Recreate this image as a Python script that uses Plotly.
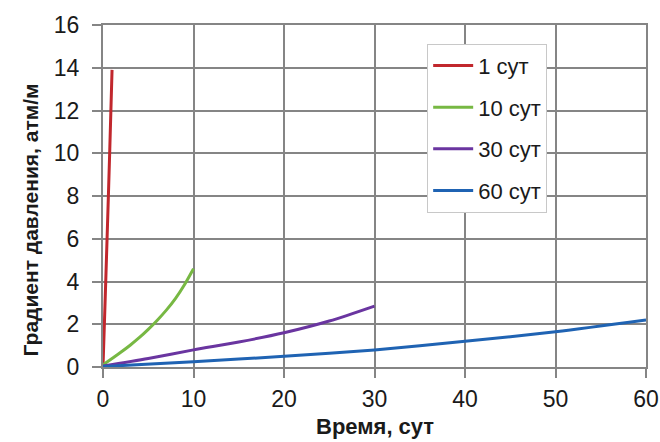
import plotly.graph_objects as go

# Pressure gradient vs time for different production periods
t_1 = [0, 0.25, 0.5, 0.75, 1.0]
g_1 = [0, 3.3, 6.7, 10.2, 13.9]

t_10 = [0, 1, 2, 3, 4, 5, 6, 7, 8, 9, 10]
g_10 = [0.1, 0.4, 0.7, 1.02, 1.37, 1.76, 2.19, 2.66, 3.2, 3.85, 4.6]

t_30 = [0, 5, 10, 15, 20, 25, 30]
g_30 = [0.05, 0.4, 0.8, 1.17, 1.6, 2.15, 2.85]

t_60 = [0, 10, 20, 30, 40, 50, 60]
g_60 = [0.02, 0.25, 0.5, 0.8, 1.2, 1.65, 2.2]

names = ["1 сут", "10 сут", "30 сут", "60 сут"]
colors = ["#c1272d", "#77b843", "#6a35a0", "#1f63b3"]
series = [(t_1, g_1), (t_10, g_10), (t_30, g_30), (t_60, g_60)]

font_family = "Liberation Sans, Arial, sans-serif"
grid_color = "#858585"

fig = go.Figure()
for i, ((x, y), name, color) in enumerate(zip(series, names, colors)):
    fig.add_trace(go.Scatter(
        x=x, y=y, mode="lines", name=name, legendgroup=f"g{i}",
        line=dict(color=color, width=3, shape="spline", smoothing=0.8),
    ))

fig.update_layout(
    width=660, height=442,
    margin=dict(l=103, r=14, t=25, b=75),
    paper_bgcolor="white", plot_bgcolor="white",
    font=dict(family=font_family, size=23, color="#1a1a1a"),
    showlegend=True,
    legend=dict(
        x=0.597, y=0.945, xanchor="left", yanchor="top",
        bgcolor="white", bordercolor="#c8c8c8", borderwidth=1,
        font=dict(family=font_family, size=22, color="#1a1a1a"),
        tracegroupgap=10, itemwidth=40,
    ),
    xaxis=dict(
        range=[0, 60], tickvals=[0, 10, 20, 30, 40, 50, 60],
        showgrid=True, gridcolor=grid_color, gridwidth=2,
        showline=True, linecolor=grid_color, linewidth=2, mirror=True,
        ticks="outside", ticklen=9, tickwidth=2, tickcolor=grid_color,
        zeroline=False, automargin=False, ticklabelstandoff=1,
    ),
    yaxis=dict(
        range=[0, 16], tickvals=[0, 2, 4, 6, 8, 10, 12, 14, 16],
        showgrid=True, gridcolor=grid_color, gridwidth=2,
        showline=True, linecolor=grid_color, linewidth=2, mirror=True,
        ticks="outside", ticklen=9, tickwidth=2, tickcolor=grid_color,
        zeroline=False, automargin=False, ticklabelstandoff=8,
    ),
    annotations=[
        dict(
            text="<b>Градиент давления, атм/м</b>",
            xref="paper", yref="paper", x=-0.134, y=0.429,
            xanchor="center", yanchor="middle", textangle=-90, showarrow=False,
            font=dict(family=font_family, size=21, color="#1a1a1a"),
        ),
        dict(
            text="<b>Время, сут</b>",
            xref="paper", yref="paper", x=0.5, y=-0.173,
            xanchor="center", yanchor="middle", showarrow=False,
            font=dict(family=font_family, size=22, color="#1a1a1a"),
        ),
    ],
)

fig.write_html("out.html")
